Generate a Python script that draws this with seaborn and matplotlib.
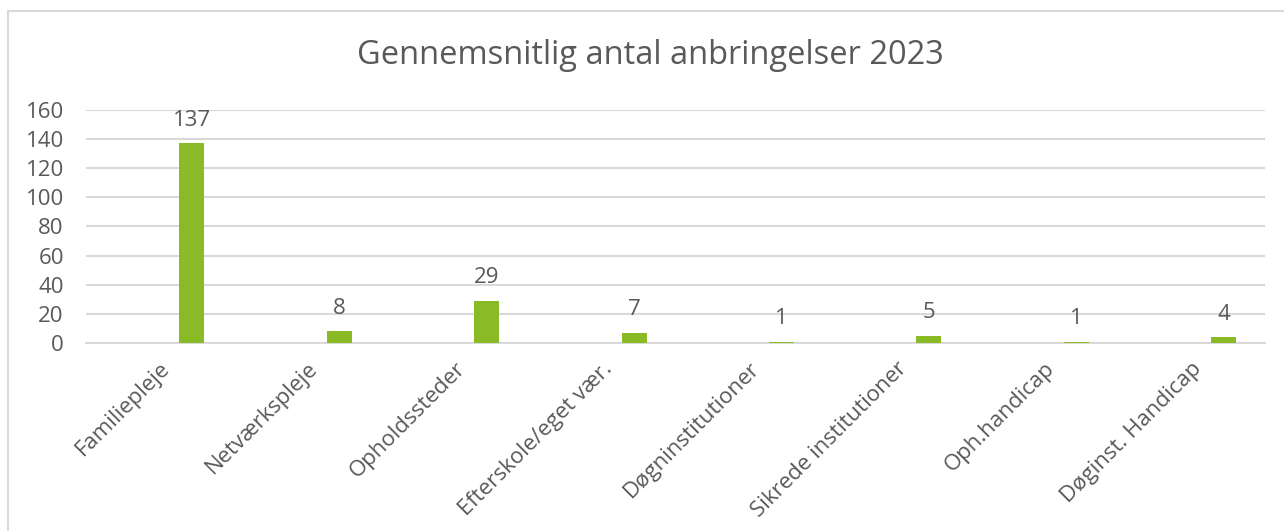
import matplotlib
matplotlib.use("Agg")
import matplotlib.pyplot as plt
import seaborn as sns
from matplotlib.lines import Line2D

categories = ["Familiepleje", "Netværkspleje", "Opholdssteder", "Efterskole/eget vær.",
              "Døgninstitutioner", "Sikrede institutioner", "Oph.handicap", "Døginst. Handicap"]
values = [137, 8, 29, 7, 1, 5, 1, 4]
yticks = [0, 20, 40, 60, 80, 100, 120, 140, 160]
title = "Gennemsnitlig antal anbringelser 2023"

GREEN = "#8ABB26"
TEXT = "#595959"
GRID = "#D9D9D9"

sns.set_theme(style="white")
plt.rcParams["font.family"] = ["Open Sans", "DejaVu Sans"]

W, H = 1284, 531
fig = plt.figure(figsize=(W / 100, H / 100), dpi=100)
ax = fig.add_axes([86 / W, 1 - 343 / H, (1265 - 86) / W, (343 - 110) / H])

sns.barplot(x=categories, y=values, color=GREEN, width=0.17, ax=ax, saturation=1)
for p in ax.patches:
    p.set_x(p.get_x() + 0.219)
    p.set_edgecolor("none")
    p.set_zorder(3)

FS = 16
ax.set_ylim(0, 160)
ax.set_xlim(-0.5, len(categories) - 0.5)
ax.set_yticks(yticks)
ax.set_yticklabels([str(t) for t in yticks], fontsize=FS, color=TEXT)
ax.set_xticks(range(len(categories)))
ax.set_xticklabels(categories, rotation=45, ha="right", va="top", rotation_mode="anchor",
                   fontsize=FS, color=TEXT)
ax.tick_params(axis="x", length=0, pad=11)
ax.tick_params(axis="y", length=0, pad=16)
ax.set_xlabel("")
ax.set_ylabel("")
ax.yaxis.grid(True, color=GRID, linewidth=1.5)
ax.set_axisbelow(True)
for s in ["top", "right", "left"]:
    ax.spines[s].set_visible(False)
ax.spines["bottom"].set_color(GRID)
ax.spines["bottom"].set_linewidth(1.5)

for c in ax.containers:
    ax.bar_label(c, labels=[str(v) for v in values], padding=9, fontsize=FS, color=TEXT)

fig.text(650 / W, 1 - 55 / H, title, ha="center", va="center", fontsize=23.5, color=TEXT)

fig.add_artist(Line2D([8 / W, 8 / W], [0, 1 - 11 / H], transform=fig.transFigure, color=GRID, linewidth=1.5))
fig.add_artist(Line2D([8 / W, 1], [1 - 11 / H, 1 - 11 / H], transform=fig.transFigure, color=GRID, linewidth=1.5))

fig.savefig("out.png", dpi=100, facecolor="white")
